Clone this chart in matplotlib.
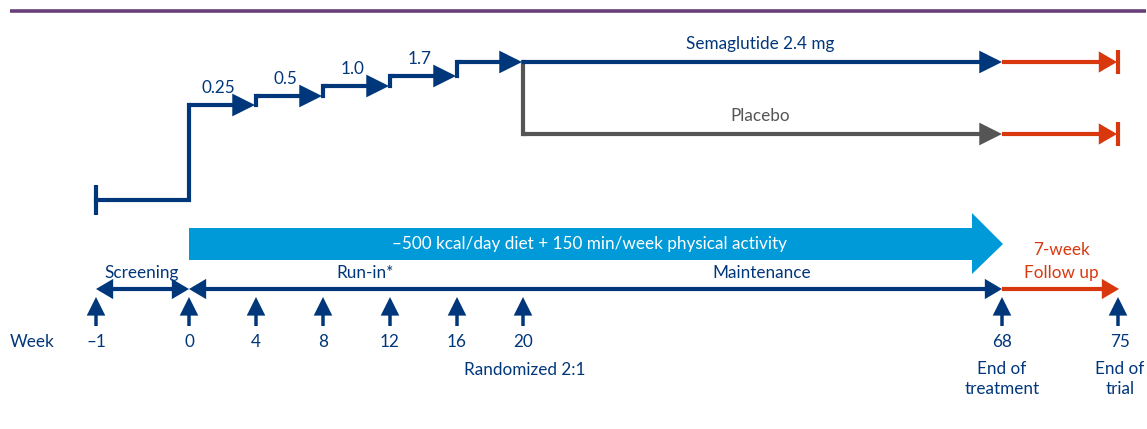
import matplotlib.pyplot as plt

# trial schedule (weeks) and the schematic x position used for each week mark
weeks = [-1, 0, 4, 8, 12, 16, 20, 68, 75]
week_labels = ['\u20131', '0', '4', '8', '12', '16', '20', '68', '75']
week_x = [96, 189, 256, 323, 390, 457, 523, 1002, 1118]

# dose escalation (mg), each step lasts 4 weeks, starting at week 0
dose_weeks = [0, 4, 8, 12, 16, 20]
dose_labels = ['0.25', '0.5', '1.0', '1.7', '']
dose_y = [105, 96, 86, 76, 62]          # schematic step heights
arm_labels = ['Semaglutide 2.4 mg', 'Placebo']
arm_y = [62, 134]

phases = ['Screening', 'Run-in*', 'Maintenance']
lifestyle = '\u2013500 kcal/day diet + 150 min/week physical activity'

NAVY = '#00367A'
BLUE = '#009AD8'
RED = '#D9380F'
GREY = '#555555'
PURPLE = '#6A4079'

plt.rcParams['font.family'] = ['Lato', 'DejaVu Sans']
FS = 12.3


def wx(w):
    return week_x[weeks.index(w)]


def arrow(ax, x0, y0, x1, y1, color, lw=3, hl=11, hw=5.5, style='-|>'):
    ax.annotate('', xy=(x1, y1), xytext=(x0, y0),
                arrowprops=dict(arrowstyle=f'{style},head_length={hl/1.39},head_width={hw/1.39}',
                                color=color, lw=lw, shrinkA=0, shrinkB=0,
                                mutation_scale=1, joinstyle='miter',
                                capstyle='butt'))


fig = plt.figure(figsize=(11.47, 4.29), dpi=100)
ax = fig.add_axes([0, 0, 1, 1])
ax.set_xlim(0, 1147)
ax.set_ylim(429, 0)
ax.axis('off')

# header rule
ax.plot([10, 1146], [11, 11], color=PURPLE, lw=2.6, solid_capstyle='butt')

# screening baseline
ax.plot([wx(-1), wx(-1)], [185, 215], color=NAVY, lw=3, solid_capstyle='butt')
ax.plot([wx(-1), wx(0), wx(0)], [200, 200, dose_y[0]], color=NAVY, lw=3,
        solid_joinstyle='miter')

# dose escalation steps
for i, lab in enumerate(dose_labels):
    x0, x1 = wx(dose_weeks[i]), wx(dose_weeks[i + 1])
    y = dose_y[i]
    if i > 0:
        ax.plot([x0, x0, x0 + 2], [dose_y[i - 1], y, y], color=NAVY, lw=3,
                solid_joinstyle='miter')
    arrow(ax, x0, y, x1 - 1, y, NAVY, hl=16, hw=8)
    ax.text((x0 + x1) / 2 - 4, y - 17, lab, color=NAVY, fontsize=FS,
            ha='center', va='center')

# treatment arms
x20, x68, x75 = wx(20), wx(68), wx(75)
ax.plot([x20, x20, x20 + 2], arm_y + [arm_y[1]], color=GREY, lw=3,
        solid_joinstyle='miter', zorder=1)
for lab, y, c in zip(arm_labels, arm_y, [NAVY, GREY]):
    arrow(ax, x20 - 1, y, x68, y, c, hl=16, hw=8)
    ax.text(760, y - 18, lab, color=c, fontsize=FS, ha='center', va='center')
    arrow(ax, x68, y, x75 - 1, y, RED, hl=12, hw=7)
    ax.plot([x75, x75], [y - 12, y + 12], color=RED, lw=3, solid_capstyle='butt')

# lifestyle intervention arrow
bx0, bx1, tip = wx(0), 972, 1003
ax.fill([bx0, bx1, bx1, tip, bx1, bx1, bx0],
        [228, 228, 213, 244, 274, 260, 260], color=BLUE, lw=0)
ax.text(590, 244, lifestyle, color='white', fontsize=FS, ha='center', va='center')

# timeline
ty = 289
arrow(ax, wx(-1), ty, wx(0), ty, NAVY, hl=11, hw=6.5, style='<|-|>')
arrow(ax, wx(0), ty, x68, ty, NAVY, hl=11, hw=6.5, style='<|-|>')
arrow(ax, x68, ty, x75 + 1, ty, RED, hl=11, hw=6.5)
ax.text(142, 273, phases[0], color=NAVY, fontsize=FS, ha='center', va='center')
ax.text(365, 273, phases[1], color=NAVY, fontsize=FS, ha='center', va='center')
ax.text(762, 273, phases[2], color=NAVY, fontsize=FS, ha='center', va='center')
ax.text(1061, 250, '7-week', color=RED, fontsize=FS, ha='center', va='center')
ax.text(1061, 273, 'Follow up', color=RED, fontsize=FS, ha='center', va='center')

# week marks
ax.text(32, 342, 'Week', color=NAVY, fontsize=FS, ha='center', va='center')
for x, lab in zip(week_x, week_labels):
    arrow(ax, x, 326, x, 297, NAVY, lw=2.5, hl=13, hw=6.5)
    ax.text(x + (2 if lab == '75' else 0), 342, lab, color=NAVY, fontsize=FS,
            ha='center', va='center')

ax.text(wx(20) + 2, 370, 'Randomized 2:1', color=NAVY, fontsize=FS,
        ha='center', va='center')
ax.text(x68, 379, 'End of\ntreatment', color=NAVY, fontsize=FS,
        ha='center', va='center', linespacing=1.35)
ax.text(x75 + 2, 379, 'End of\ntrial', color=NAVY, fontsize=FS,
        ha='center', va='center', linespacing=1.35)

fig.savefig('out.png', dpi=100)
